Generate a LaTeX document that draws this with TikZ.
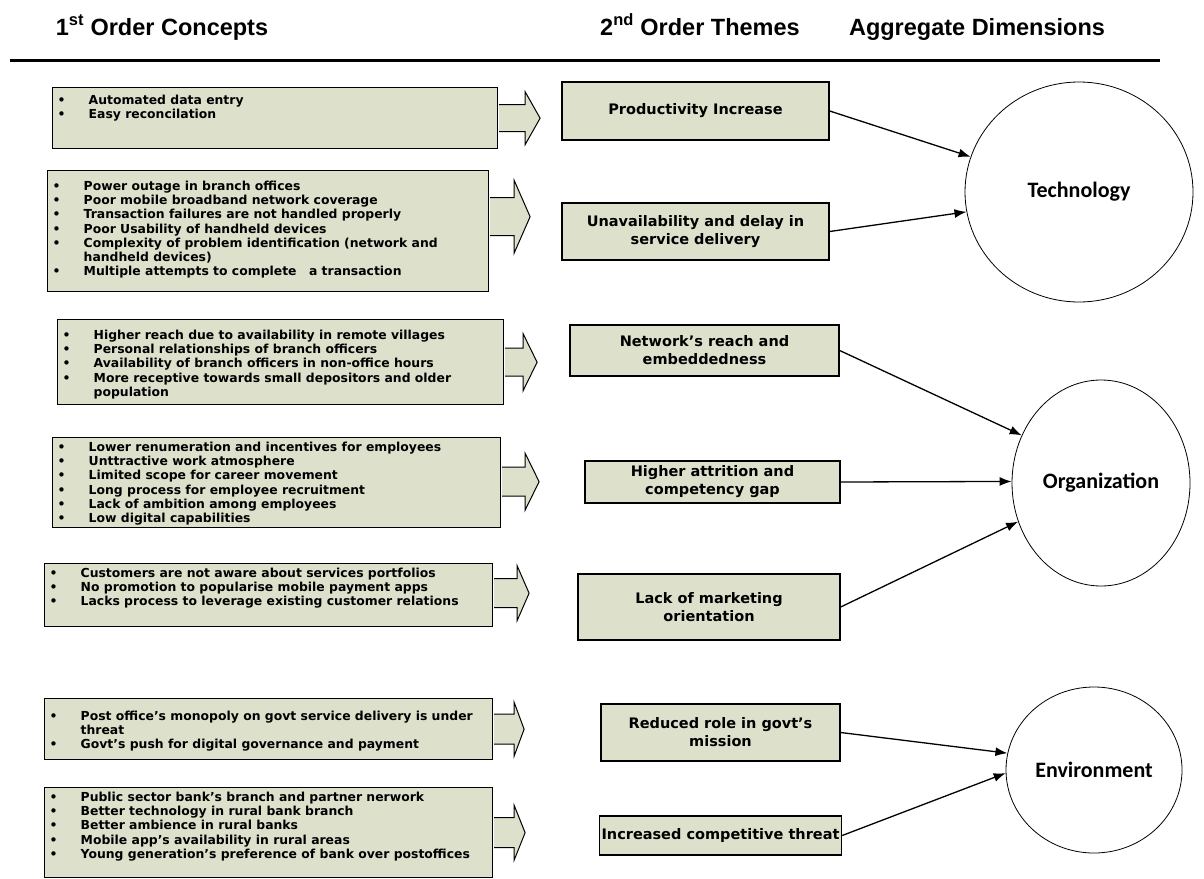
\documentclass[tikz,border=0pt]{standalone}
\usepackage{fontspec}
\setmainfont{Liberation Sans}
\newfontfamily\boxfont{DejaVu Sans}
\newfontfamily\dimfont{Carlito}
\usepackage{tikz}
\usetikzlibrary{arrows.meta,shapes.geometric}
\definecolor{boxfill}{RGB}{221,225,204}
\newcommand{\bul}{\makebox[31pt][l]{\textbullet}}

\begin{document}
\begin{tikzpicture}[
  x=1pt, y=-1pt,
  head/.style={font=\bfseries\fontsize{23.5}{27}\selectfont, anchor=base, inner sep=0pt},
  concept/.style={draw, fill=boxfill, line width=1.4pt, anchor=north west, inner xsep=5pt, inner ysep=0pt,
    font=\boxfont\bfseries\fontsize{12.4}{14.3}\selectfont},
  theme/.style={draw, fill=boxfill, line width=1.4pt, align=center, inner sep=2pt,
    font=\boxfont\bfseries\fontsize{14.5}{18}\selectfont},
  dimension/.style={draw, ellipse, line width=0.8pt, fill=white, inner sep=0pt,
    font=\dimfont\bfseries\fontsize{22}{26}\selectfont},
  blockarrow/.style={draw, fill=boxfill, line width=1pt, line join=miter},
  arrow/.style={-{Latex[length=12pt,width=9pt]}, line width=1.3pt}
]
\useasboundingbox (0,0) rectangle (1204,878);
\fill[white] (0,0) rectangle (1204,878);

% column heads
\node[head] (h1) at (162,35) {1\textsuperscript{st} Order Concepts};
\node[head] (h2) at (700,35) {2\textsuperscript{nd} Order Themes};
\node[head] (h3) at (977,35) {Aggregate Dimensions};
\draw[line width=3pt] (10,60) -- (1160,60);

% 1st order concepts
\node[concept] (c1) at (52,87) {\parbox[c][61pt][t]{435pt}{\raggedright\vspace*{7pt}%
  \bul Automated data entry\\
  \bul Easy reconcilation}};
\node[concept] (c2) at (47,170) {\parbox[c][121pt][t]{431pt}{\raggedright\vspace*{10pt}%
  \bul Power outage in branch offices\\
  \bul Poor mobile broadband network coverage\\
  \bul Transaction failures are not handled properly\\
  \bul Poor Usability of handheld devices\\
  \bul Complexity of problem identification (network and\\
  \hspace*{31pt}handheld devices)\\
  \bul Multiple attempts to complete\quad a transaction}};
\node[concept] (c3) at (57,319) {\parbox[c][85pt][t]{436pt}{\raggedright\vspace*{10pt}%
  \bul Higher reach due to availability in remote villages\\
  \bul Personal relationships of branch officers\\
  \bul Availability of branch officers in non-office hours\\
  \bul More receptive towards small depositors and older\\
  \hspace*{31pt}population}};
\node[concept] (c4) at (52,437) {\parbox[c][90pt][t]{438pt}{\raggedright\vspace*{4pt}%
  \bul Lower renumeration and incentives for employees\\
  \bul Unttractive work atmosphere\\
  \bul Limited scope for career movement\\
  \bul Long process for employee recruitment\\
  \bul Lack of ambition among employees\\
  \bul Low digital capabilities}};
\node[concept] (c5) at (44,563) {\parbox[c][63pt][t]{438pt}{\raggedright\vspace*{4pt}%
  \bul Customers are not aware about services portfolios\\
  \bul No promotion to popularise mobile payment apps\\
  \bul Lacks process to leverage existing customer relations}};
\node[concept] (c6) at (44,698) {\parbox[c][61pt][t]{438pt}{\raggedright\vspace*{12pt}%
  \bul Post office’s monopoly on govt service delivery is under\\
  \hspace*{31pt}threat\\
  \bul Govt’s push for digital governance and payment}};
\node[concept] (c7) at (44,787) {\parbox[c][90pt][t]{438pt}{\raggedright\vspace*{4pt}%
  \bul Public sector bank’s branch and partner nerwork\\
  \bul Better technology in rural bank branch\\
  \bul Better ambience in rural banks\\
  \bul Mobile app’s availability in rural areas\\
  \bul Young generation’s preference of bank over postoffices}};

% block arrows: name/shift/head/shaft/shaft length/head length
\foreach \cname/\dy/\ahgt/\shgt/\slen/\hlen in {c1/0/53/27/26/15, c2/14.5/73/38/24/16,
    c3/0/57/28/18/14, c4/1/57/29/23/14, c5/2/55/29/23/12, c6/0/54/30/20/10, c7/0/55/30/20/11}
  \draw[blockarrow] ([xshift=0.7pt, yshift=\dy pt]\cname.east) ++(0,{-\shgt/2}) -- ++(\slen,0)
    -- ++(0,{-(\ahgt-\shgt)/2}) -- ++(\hlen,{\ahgt/2}) -- ++(-\hlen,{\ahgt/2})
    -- ++(0,{-(\ahgt-\shgt)/2}) -- ++(-\slen,0);

% 2nd order themes
\node[theme, minimum width=267pt, minimum height=58pt] (t1) at (695.5,111) {Productivity Increase};
\node[theme, minimum width=267pt, minimum height=57pt] (t2) at (695.5,231.5) {Unavailability and delay in\\service delivery};
\node[theme, minimum width=269pt, minimum height=51pt] (t3) at (704.5,350.5) {Network’s reach and\\embeddedness};
\node[theme, minimum width=255pt, minimum height=42pt] (t4) at (712.5,482) {Higher attrition and\\competency gap};
\node[theme, minimum width=262pt, minimum height=66pt] (t5) at (709,607) {Lack of marketing\\orientation};
\node[theme, minimum width=239pt, minimum height=57pt] (t6) at (720.5,732.5) {Reduced role in govt’s\\mission};
\node[theme, minimum width=239pt, minimum height=39pt] (t7) at (720.5,835.5) {Increased competitive threat};

% aggregate dimensions
\node[dimension, minimum width=228pt, minimum height=220pt] (tech) at (1079,192) {Technology};
\node[dimension, minimum width=178pt, minimum height=206pt] (org) at (1101,483) {Organization};
\node[dimension, minimum width=176pt, minimum height=166pt] (env) at (1094,770) {Environment};

\draw[arrow] (t1.east) -- (tech.162);
\draw[arrow] (t2.east) -- (tech.190);
\draw[arrow] (t3.east) -- (org.149);
\draw[arrow] (t4.east) -- (org.179);
\draw[arrow] (t5.east) -- (org.205);
\draw[arrow] (t6.east) -- (env.169);
\draw[arrow] (t7.east) -- (env.182);
\end{tikzpicture}
\end{document}
